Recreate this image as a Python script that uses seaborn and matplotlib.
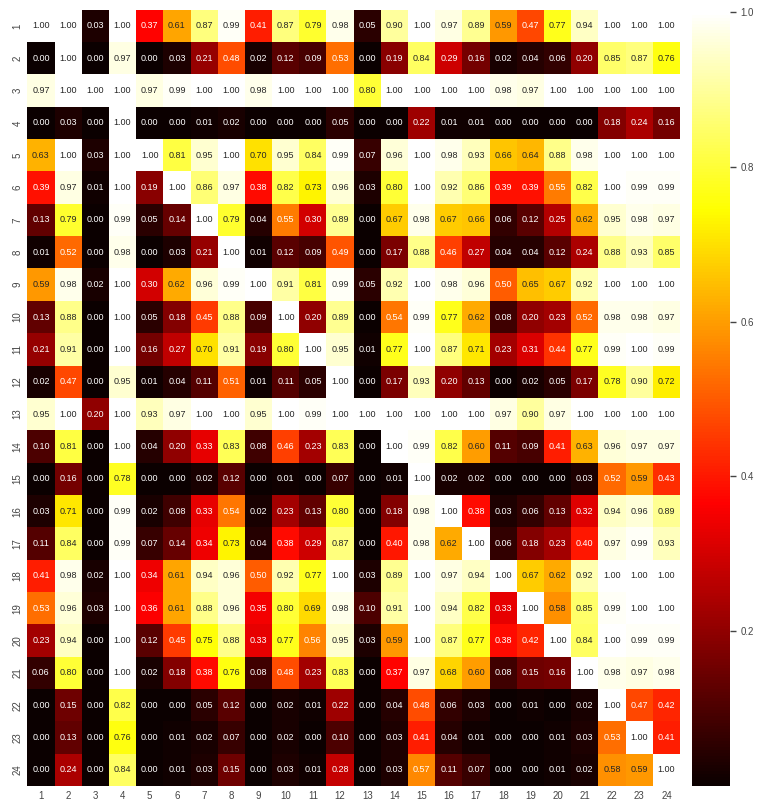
import matplotlib
matplotlib.use("Agg")
import matplotlib.pyplot as plt
import numpy as np
import pandas as pd
import seaborn as sns

labels = [str(i) for i in range(1, 25)]

values = [
    [1.00, 1.00, 0.03, 1.00, 0.37, 0.61, 0.87, 0.99, 0.41, 0.87, 0.79, 0.98, 0.05, 0.90, 1.00, 0.97, 0.89, 0.59, 0.47, 0.77, 0.94, 1.00, 1.00, 1.00],
    [0.00, 1.00, 0.00, 0.97, 0.00, 0.03, 0.21, 0.48, 0.02, 0.12, 0.09, 0.53, 0.00, 0.19, 0.84, 0.29, 0.16, 0.02, 0.04, 0.06, 0.20, 0.85, 0.87, 0.76],
    [0.97, 1.00, 1.00, 1.00, 0.97, 0.99, 1.00, 1.00, 0.98, 1.00, 1.00, 1.00, 0.80, 1.00, 1.00, 1.00, 1.00, 0.98, 0.97, 1.00, 1.00, 1.00, 1.00, 1.00],
    [0.00, 0.03, 0.00, 1.00, 0.00, 0.00, 0.01, 0.02, 0.00, 0.00, 0.00, 0.05, 0.00, 0.00, 0.22, 0.01, 0.01, 0.00, 0.00, 0.00, 0.00, 0.18, 0.24, 0.16],
    [0.63, 1.00, 0.03, 1.00, 1.00, 0.81, 0.95, 1.00, 0.70, 0.95, 0.84, 0.99, 0.07, 0.96, 1.00, 0.98, 0.93, 0.66, 0.64, 0.88, 0.98, 1.00, 1.00, 1.00],
    [0.39, 0.97, 0.01, 1.00, 0.19, 1.00, 0.86, 0.97, 0.38, 0.82, 0.73, 0.96, 0.03, 0.80, 1.00, 0.92, 0.86, 0.39, 0.39, 0.55, 0.82, 1.00, 0.99, 0.99],
    [0.13, 0.79, 0.00, 0.99, 0.05, 0.14, 1.00, 0.79, 0.04, 0.55, 0.30, 0.89, 0.00, 0.67, 0.98, 0.67, 0.66, 0.06, 0.12, 0.25, 0.62, 0.95, 0.98, 0.97],
    [0.01, 0.52, 0.00, 0.98, 0.00, 0.03, 0.21, 1.00, 0.01, 0.12, 0.09, 0.49, 0.00, 0.17, 0.88, 0.46, 0.27, 0.04, 0.04, 0.12, 0.24, 0.88, 0.93, 0.85],
    [0.59, 0.98, 0.02, 1.00, 0.30, 0.62, 0.96, 0.99, 1.00, 0.91, 0.81, 0.99, 0.05, 0.92, 1.00, 0.98, 0.96, 0.50, 0.65, 0.67, 0.92, 1.00, 1.00, 1.00],
    [0.13, 0.88, 0.00, 1.00, 0.05, 0.18, 0.45, 0.88, 0.09, 1.00, 0.20, 0.89, 0.00, 0.54, 0.99, 0.77, 0.62, 0.08, 0.20, 0.23, 0.52, 0.98, 0.98, 0.97],
    [0.21, 0.91, 0.00, 1.00, 0.16, 0.27, 0.70, 0.91, 0.19, 0.80, 1.00, 0.95, 0.01, 0.77, 1.00, 0.87, 0.71, 0.23, 0.31, 0.44, 0.77, 0.99, 1.00, 0.99],
    [0.02, 0.47, 0.00, 0.95, 0.01, 0.04, 0.11, 0.51, 0.01, 0.11, 0.05, 1.00, 0.00, 0.17, 0.93, 0.20, 0.13, 0.00, 0.02, 0.05, 0.17, 0.78, 0.90, 0.72],
    [0.95, 1.00, 0.20, 1.00, 0.93, 0.97, 1.00, 1.00, 0.95, 1.00, 0.99, 1.00, 1.00, 1.00, 1.00, 1.00, 1.00, 0.97, 0.90, 0.97, 1.00, 1.00, 1.00, 1.00],
    [0.10, 0.81, 0.00, 1.00, 0.04, 0.20, 0.33, 0.83, 0.08, 0.46, 0.23, 0.83, 0.00, 1.00, 0.99, 0.82, 0.60, 0.11, 0.09, 0.41, 0.63, 0.96, 0.97, 0.97],
    [0.00, 0.16, 0.00, 0.78, 0.00, 0.00, 0.02, 0.12, 0.00, 0.01, 0.00, 0.07, 0.00, 0.01, 1.00, 0.02, 0.02, 0.00, 0.00, 0.00, 0.03, 0.52, 0.59, 0.43],
    [0.03, 0.71, 0.00, 0.99, 0.02, 0.08, 0.33, 0.54, 0.02, 0.23, 0.13, 0.80, 0.00, 0.18, 0.98, 1.00, 0.38, 0.03, 0.06, 0.13, 0.32, 0.94, 0.96, 0.89],
    [0.11, 0.84, 0.00, 0.99, 0.07, 0.14, 0.34, 0.73, 0.04, 0.38, 0.29, 0.87, 0.00, 0.40, 0.98, 0.62, 1.00, 0.06, 0.18, 0.23, 0.40, 0.97, 0.99, 0.93],
    [0.41, 0.98, 0.02, 1.00, 0.34, 0.61, 0.94, 0.96, 0.50, 0.92, 0.77, 1.00, 0.03, 0.89, 1.00, 0.97, 0.94, 1.00, 0.67, 0.62, 0.92, 1.00, 1.00, 1.00],
    [0.53, 0.96, 0.03, 1.00, 0.36, 0.61, 0.88, 0.96, 0.35, 0.80, 0.69, 0.98, 0.10, 0.91, 1.00, 0.94, 0.82, 0.33, 1.00, 0.58, 0.85, 0.99, 1.00, 1.00],
    [0.23, 0.94, 0.00, 1.00, 0.12, 0.45, 0.75, 0.88, 0.33, 0.77, 0.56, 0.95, 0.03, 0.59, 1.00, 0.87, 0.77, 0.38, 0.42, 1.00, 0.84, 1.00, 0.99, 0.99],
    [0.06, 0.80, 0.00, 1.00, 0.02, 0.18, 0.38, 0.76, 0.08, 0.48, 0.23, 0.83, 0.00, 0.37, 0.97, 0.68, 0.60, 0.08, 0.15, 0.16, 1.00, 0.98, 0.97, 0.98],
    [0.00, 0.15, 0.00, 0.82, 0.00, 0.00, 0.05, 0.12, 0.00, 0.02, 0.01, 0.22, 0.00, 0.04, 0.48, 0.06, 0.03, 0.00, 0.01, 0.00, 0.02, 1.00, 0.47, 0.42],
    [0.00, 0.13, 0.00, 0.76, 0.00, 0.01, 0.02, 0.07, 0.00, 0.02, 0.00, 0.10, 0.00, 0.03, 0.41, 0.04, 0.01, 0.00, 0.00, 0.01, 0.03, 0.53, 1.00, 0.41],
    [0.00, 0.24, 0.00, 0.84, 0.00, 0.01, 0.03, 0.15, 0.00, 0.03, 0.01, 0.28, 0.00, 0.03, 0.57, 0.11, 0.07, 0.00, 0.00, 0.01, 0.02, 0.58, 0.59, 1.00],
]

sns.set_theme(style="white")
plt.rcParams['font.family'] = ['Liberation Sans', 'DejaVu Sans']

df = pd.DataFrame(values, index=labels, columns=labels)

fig = plt.figure(figsize=(7.59, 8.1), dpi=100)
ax = fig.add_axes([0.036, 0.0296, 0.86, 0.9584])
cax = fig.add_axes([0.912, 0.0296, 0.05, 0.9555])

sns.heatmap(df, ax=ax, cbar_ax=cax, cmap='hot', vmin=0, vmax=1,
            annot=True, fmt='.2f', annot_kws={'fontsize': 6.5})

ax.tick_params(axis='both', labelsize=7, length=0, colors='#444444')
plt.setp(ax.get_yticklabels(), rotation=90, va='center')
plt.setp(ax.get_xticklabels(), rotation=0)
cax.tick_params(labelsize=7, length=4, width=1, colors='#444444')
cax.set_yticks([0.2, 0.4, 0.6, 0.8, 1.0])

fig.savefig('out.png', dpi=100)
